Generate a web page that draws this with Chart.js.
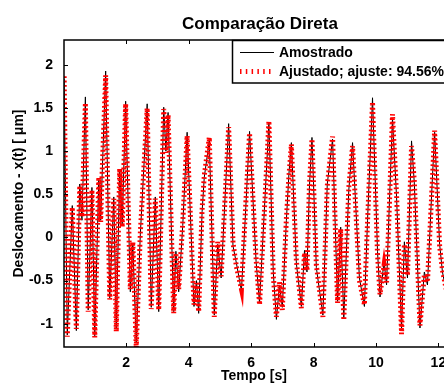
<!DOCTYPE html>
<html>
<head>
<meta charset="utf-8">
<script src="https://cdn.jsdelivr.net/npm/chart.js@4.4.1/dist/chart.umd.min.js"></script>
<style>
  html, body { margin: 0; padding: 0; background: #fff; }
  canvas { display: block; }
</style>
</head>
<body>
<canvas id="comparacao" width="444" height="383"></canvas>
<script>
// tempo [s] e deslocamento [um] nos extremos de cada oscilacao
const tempo = [
  0.01, 0.11, 0.27, 0.40, 0.51, 0.58, 0.69, 0.78, 0.90, 0.99,
  1.12, 1.18, 1.23, 1.34, 1.47, 1.60, 1.68, 1.79, 1.87, 1.98,
  2.13, 2.21, 2.32, 2.45, 2.67, 2.80, 2.93, 3.04, 3.20, 3.27,
  3.34, 3.52, 3.59, 3.68, 3.81, 3.95, 4.17, 4.25, 4.32, 4.43,
  4.50, 4.66, 4.82, 4.93, 5.04, 5.28, 5.42, 5.53, 5.69, 5.83,
  5.95, 6.16, 6.27, 6.40, 6.57, 6.71, 6.81, 6.91, 7.00, 7.13,
  7.21, 7.29, 7.45, 7.61, 7.71, 7.79, 7.87, 7.95, 8.09, 8.30,
  8.44, 8.61, 8.77, 8.87, 8.97, 9.13, 9.25, 9.47, 9.63, 9.73,
  9.89, 10.05, 10.13, 10.26, 10.34, 10.42, 10.53, 10.66, 10.82, 10.91,
  11.01, 11.14, 11.23, 11.41, 11.55, 11.65, 11.78, 11.88, 12.04, 12.13,
  12.25
];
const amostrado = [
  1.84, -1.13, 0.37, -1.08, 0.62, 0.20, 1.63, -0.84, 0.58, -1.14,
  0.67, 0.20, 0.75, 1.93, -0.70, 0.47, -1.05, 0.77, 0.15, 1.58,
  -0.63, -0.08, -1.22, 0.03, 1.55, -0.81, 0.47, -0.86, 1.51, 1.00,
  1.45, -0.86, -0.16, -0.63, 0.14, 1.22, -0.80, -0.50, -0.88, 0.30,
  0.70, 1.12, -0.90, -0.08, -0.47, 1.32, -0.10, -0.30, -0.62, 0.35,
  1.23, -0.28, -0.76, 0.15, 1.33, -0.40, -0.95, -0.55, -0.81, 0.20,
  0.73, 1.10, -0.30, -0.80, -0.15, -0.40, 0.60, 1.16, -0.35, -0.90,
  0.62, 1.14, -0.74, 0.12, -0.93, 0.55, 1.10, -0.47, -0.80, 0.20,
  1.62, -0.16, -0.69, -0.28, -0.55, 0.30, 1.38, 0.47, -1.05, -0.05,
  -0.47, 1.12, 0.62, -1.05, -0.40, -0.55, 0.47, 1.22, -0.08, -0.40,
  -0.62
];
const ajustado = [
  1.87, -1.15, 0.35, -1.06, 0.60, 0.24, 1.56, -0.86, 0.55, -1.16,
  0.70, 0.18, 0.78, 1.88, -0.72, 0.45, -1.09, 0.80, 0.12, 1.55,
  -0.60, -0.05, -1.28, 0.05, 1.50, -0.83, 0.45, -0.84, 1.49, 0.98,
  1.42, -0.88, -0.18, -0.60, 0.18, 1.18, -0.78, -0.53, -0.86, 0.33,
  0.72, 1.16, -0.92, -0.05, -0.45, 1.28, -0.06, -0.34, -0.60, 0.40,
  1.21, -0.25, -0.78, 0.12, 1.35, -0.44, -0.92, -0.52, -0.84, 0.22,
  0.70, 1.08, -0.27, -0.82, -0.18, -0.38, 0.62, 1.14, -0.32, -0.92,
  0.60, 1.17, -0.76, 0.10, -0.96, 0.58, 1.06, -0.50, -0.78, 0.18,
  1.57, -0.20, -0.66, -0.32, -0.52, 0.27, 1.43, 0.50, -1.12, -0.08,
  -0.44, 1.06, 0.65, -1.02, -0.43, -0.52, 0.45, 1.24, -0.10, -0.38,
  -0.60
];

const xTicks = [2, 4, 6, 8, 10, 12];
const yTicks = [-1, -0.5, 0, 0.5, 1, 1.5, 2];
const titulo = "Comparação Direta";
const rotulos = ["Amostrado", "Ajustado; ajuste: 94.56%"];

const FONTE = "Arial, 'Liberation Sans', sans-serif";
const VERMELHO = "#ff0000";

const pontos = (ys) => tempo.map((t, i) => ({ x: t, y: ys[i] }));

// moldura estilo matlab: caixa, ticks para dentro, titulo e legenda
const moldura = {
  id: "moldura",
  afterDatasetsDraw(chart) {
    const { ctx, chartArea: a, scales } = chart;
    ctx.save();
    ctx.strokeStyle = "#000";
    ctx.lineWidth = 1.5;
    ctx.beginPath();
    ctx.moveTo(a.right + 5, a.top);
    ctx.lineTo(a.left, a.top);
    ctx.lineTo(a.left, a.bottom);
    ctx.lineTo(a.right + 5, a.bottom);
    ctx.stroke();

    ctx.lineWidth = 1;
    ctx.beginPath();
    xTicks.forEach((v) => {
      const px = Math.round(scales.x.getPixelForValue(v)) + 0.5;
      ctx.moveTo(px, a.bottom);
      ctx.lineTo(px, a.bottom - 4);
      ctx.moveTo(px, a.top);
      ctx.lineTo(px, a.top + 4);
    });
    yTicks.forEach((v) => {
      const py = Math.round(scales.y.getPixelForValue(v)) + 0.5;
      ctx.moveTo(a.left, py);
      ctx.lineTo(a.left + 4, py);
    });
    ctx.stroke();
    ctx.restore();
  },
  afterDraw(chart) {
    const { ctx, chartArea: a, data } = chart;
    ctx.save();

    // titulo
    ctx.fillStyle = "#000";
    ctx.font = "bold 17px " + FONTE;
    ctx.textAlign = "center";
    ctx.textBaseline = "alphabetic";
    ctx.fillText(titulo, (a.left + a.right) / 2 + 6, 29);

    // legenda
    const lx = a.left + 168;
    const ly = a.top;
    ctx.fillStyle = "#fff";
    ctx.fillRect(lx, ly, 240, 43);
    ctx.strokeStyle = "#000";
    ctx.lineWidth = 1.5;
    ctx.strokeRect(lx + 0.5, ly + 0.5, 240, 42.5);

    const linhas = [ly + 12.5, ly + 31.5];
    data.datasets.forEach((ds, i) => {
      const y = linhas[i];
      ctx.save();
      ctx.strokeStyle = ds.borderColor;
      ctx.lineWidth = ds.borderWidth;
      ctx.lineCap = "butt";
      ctx.setLineDash(ds.borderDash ? [1.5, 4.3] : []);
      ctx.beginPath();
      ctx.moveTo(lx + 8, y);
      ctx.lineTo(lx + 42, y);
      ctx.stroke();
      ctx.restore();

      ctx.fillStyle = "#000";
      ctx.font = "bold 14px " + FONTE;
      ctx.textAlign = "left";
      ctx.textBaseline = "middle";
      ctx.fillText(ds.label, lx + 47, y + 0.5);
    });
    ctx.restore();
  },
};

new Chart(document.getElementById("comparacao"), {
  type: "line",
  data: {
    datasets: [
      {
        label: rotulos[0],
        data: pontos(amostrado),
        borderColor: "#000",
        borderWidth: 1,
        pointRadius: 0,
        tension: 0,
        order: 2,
      },
      {
        label: rotulos[1],
        data: pontos(ajustado),
        borderColor: VERMELHO,
        borderWidth: 5,
        borderDash: [1.8, 2.6],
        borderCapStyle: "butt",
        pointRadius: 0,
        tension: 0,
        order: 1,
      },
    ],
  },
  options: {
    responsive: false,
    animation: false,
    devicePixelRatio: 1,
    layout: { padding: { top: 40, left: 0, right: 0, bottom: 0 } },
    plugins: {
      legend: { display: false },
      title: { display: false },
      tooltip: { enabled: false },
    },
    scales: {
      x: {
        type: "linear",
        min: 0.005,
        max: 12.18,
        grid: { display: false },
        border: { display: false },
        ticks: {
          color: "#000",
          padding: 0,
          maxRotation: 0,
          autoSkip: false,
          callback: (v) => String(v),
          font: { family: FONTE, size: 14, weight: "bold" },
        },
        title: {
          display: true,
          text: "Tempo [s]",
          color: "#000",
          padding: { top: 0, bottom: 0 },
          font: { family: FONTE, size: 14, weight: "bold", lineHeight: 1 },
        },
        afterBuildTicks(scale) {
          scale.ticks = xTicks.map((v) => ({ value: v }));
        },
        afterFit(scale) {
          scale.height = 36;
          scale.paddingLeft = 0;
          scale.paddingRight = 0;
        },
      },
      y: {
        min: -1.27,
        max: 2.29,
        grid: { display: false },
        border: { display: false },
        ticks: {
          color: "#000",
          padding: 3,
          callback: (v) => String(v),
          font: { family: FONTE, size: 14, weight: "bold" },
        },
        title: {
          display: true,
          text: "Deslocamento - x(t) [ μm]",
          color: "#000",
          padding: { top: 11, bottom: 0 },
          font: { family: FONTE, size: 14, weight: "bold" },
        },
        afterBuildTicks(scale) {
          scale.ticks = yTicks.map((v) => ({ value: v }));
        },
        afterFit(scale) {
          scale.width = 64;
          scale.paddingTop = 0;
          scale.paddingBottom = 0;
        },
      },
    },
  },
  plugins: [moldura],
});
</script>
</body>
</html>
